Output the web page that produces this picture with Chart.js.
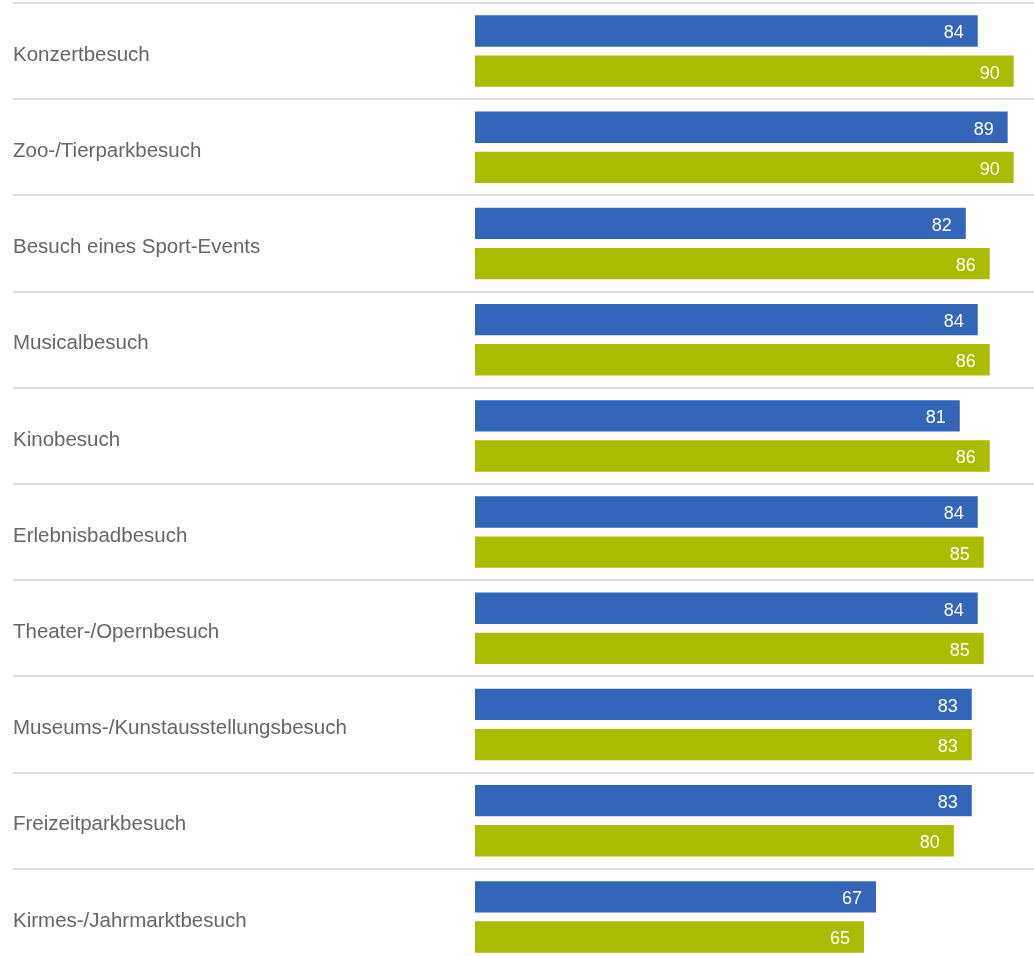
<!DOCTYPE html>
<html>
<head>
<meta charset="utf-8">
<script src="https://cdn.jsdelivr.net/npm/chart.js@4/dist/chart.umd.min.js"></script>
<style>
  html, body { margin: 0; padding: 0; background: #fff; overflow: hidden; }
</style>
</head>
<body>
<canvas id="myCanvas" width="1034" height="967"></canvas>
<script>
const categories = [
    "Konzertbesuch",
    "Zoo-/Tierparkbesuch",
    "Besuch eines Sport-Events",
    "Musicalbesuch",
    "Kinobesuch",
    "Erlebnisbadbesuch",
    "Theater-/Opernbesuch",
    "Museums-/Kunstausstellungsbesuch",
    "Freizeitparkbesuch",
    "Kirmes-/Jahrmarktbesuch"
];
const seriesBlue = [84, 89, 82, 84, 81, 84, 84, 83, 83, 67];
const seriesGreen = [90, 90, 86, 86, 86, 85, 85, 83, 80, 65];

const ctx = document.getElementById("myCanvas").getContext("2d");

// white numbers at the end of each bar
const valueLabels = {
    id: "valueLabels",
    afterDatasetsDraw(chart) {
        const c = chart.ctx;
        c.save();
        c.font = '18px "Liberation Sans", Arial, sans-serif';
        c.fillStyle = "#ffffff";
        c.textAlign = "right";
        c.textBaseline = "middle";
        chart.data.datasets.forEach((ds, i) => {
            chart.getDatasetMeta(i).data.forEach((bar, j) => {
                c.fillText(ds.data[j], bar.x - 14, bar.y + 2.5);
            });
        });
        c.restore();
    }
};

var chart = new Chart(ctx, {
    type: "bar",
    data: {
        labels: categories,
        datasets: [
            {
                label: "Serie 1",
                data: seriesBlue,
                backgroundColor: "#3366bb",
                categoryPercentage: 0.835,
                barPercentage: 0.78
            },
            {
                label: "Serie 2",
                data: seriesGreen,
                backgroundColor: "#aabb00",
                categoryPercentage: 0.835,
                barPercentage: 0.78
            }
        ]
    },
    options: {
        indexAxis: "y",
        responsive: false,
        animation: false,
        layout: {
            padding: {
                top: 3,
                left: 13,
                bottom: 2,
                right: 0
            }
        },
        scales: {
            x: {
                display: false,
                min: 0,
                max: 93.4
            },
            y: {
                border: { display: false },
                grid: {
                    color: "#dddddd",
                    lineWidth: 2,
                    tickLength: 462
                },
                ticks: {
                    crossAlign: "far",
                    labelOffset: 4,
                    color: "#666666",
                    font: { family: '"Liberation Sans", Arial, sans-serif', size: 20.5 }
                },
                afterFit(scale) {
                    scale.width = 462;
                    scale.paddingTop = 0;
                    scale.paddingBottom = 0;
                }
            }
        },
        plugins: {
            legend: { display: false },
            tooltip: { enabled: false }
        }
    },
    plugins: [valueLabels]
});
</script>
</body>
</html>
